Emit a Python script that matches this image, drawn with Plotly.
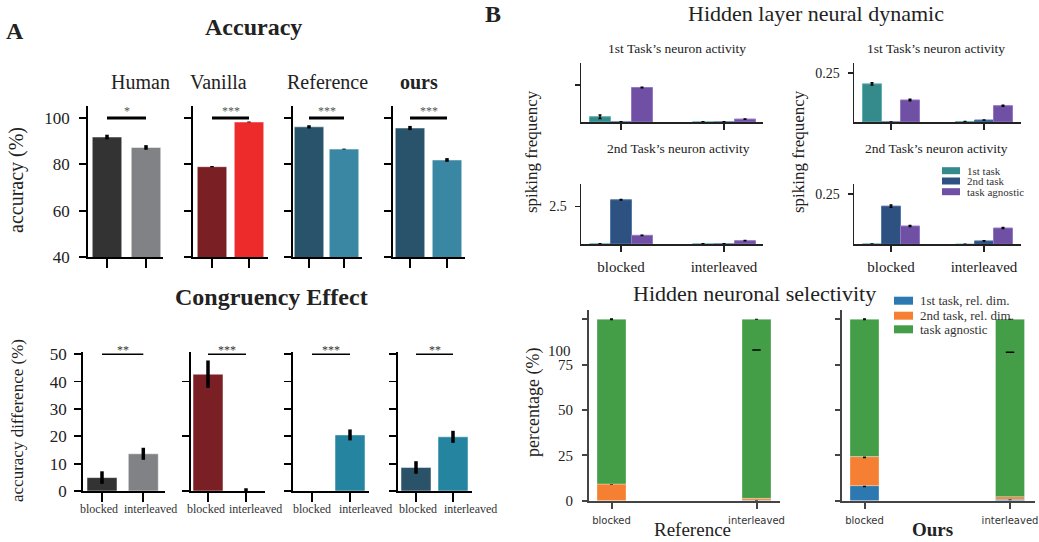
import plotly.graph_objects as go

W, H = 1039, 542
SERIF = "Liberation Serif, Times New Roman, serif"
SANS = "DejaVu Sans, sans-serif"

# ---------------- DATA ----------------
conditions = ["blocked", "interleaved"]
models = ["Human", "Vanilla", "Reference", "ours"]

acc_human = [91.8, 87.3]
acc_human_err = [1.0, 1.0]
acc_vanilla = [79.0, 98.3]
acc_vanilla_err = [0.3, 0.2]
acc_reference = [96.2, 86.6]
acc_reference_err = [0.7, 0.2]
acc_ours = [95.7, 81.9]
acc_ours_err = [0.9, 0.8]
acc_sig = ["*", "***", "***", "***"]
acc_sig_level = [100, 100, 100, 100]

cong_human = [4.9, 13.6]
cong_human_err = [2.3, 2.2]
cong_vanilla = [42.7, 0.0]
cong_vanilla_err = [5.0, 1.0]
cong_reference = [0.0, 20.5]
cong_reference_err = [0.0, 2.0]
cong_ours = [8.6, 19.8]
cong_ours_err = [2.3, 2.2]
cong_sig = ["**", "***", "***", "**"]
cong_sig_level = [50, 50, 50, 50]

neuron_groups = ["1st task", "2nd task", "task agnostic"]
# Reference network (left column)
ref_t1_first = [0.36, 0.0]
ref_t1_second = [0.0, 0.0]
ref_t1_agnostic = [2.34, 0.20]
ref_t2_first = [0.0, 0.0]
ref_t2_second = [2.95, 0.0]
ref_t2_agnostic = [0.58, 0.22]
# Ours (right column)
ours_t1_first = [0.194, 0.002]
ours_t1_second = [0.0, 0.010]
ours_t1_agnostic = [0.112, 0.083]
ours_t2_first = [0.002, 0.0]
ours_t2_second = [0.190, 0.017]
ours_t2_agnostic = [0.091, 0.081]

sel_groups = ["1st task, rel. dim.", "2nd task, rel. dim.", "task agnostic"]
sel_ref_first = [0.0, 0.3]
sel_ref_second = [9.2, 1.0]
sel_ref_agnostic = [90.8, 98.7]
sel_ref_err = [0.4, 0.8]
sel_ours_first = [8.3, 0.8]
sel_ours_second = [16.0, 1.4]
sel_ours_agnostic = [75.7, 97.8]
sel_ours_err = [0.9, 0.6]
sel_ref_mark = [None, 83.1]
sel_ours_mark = [None, 81.8]

# ---------------- STYLE ----------------
C_TEAL, C_NAVY, C_PURPLE = "#358a8c", "#2d5282", "#7050a4"
C_BLUE, C_ORANGE, C_GREEN = "#2e78b2", "#f58033", "#449e48"

layout = dict(width=W, height=H, margin=dict(l=0, r=0, t=0, b=0, autoexpand=False),
              paper_bgcolor="white", plot_bgcolor="rgba(0,0,0,0)",
              showlegend=False, barmode="overlay",
              font=dict(family=SERIF, color="#222"))
anns, shapes, traces = [], [], []
counter = [0]


def add_axes(xdom, centers, ydom, yrange, xstyle, ystyle):
    counter[0] += 1
    n = counter[0]
    sfx = "" if n == 1 else str(n)
    s = centers[1] - centers[0]
    xr = [(xdom[0] - centers[0]) / s, (xdom[1] - centers[0]) / s]
    layout["xaxis" + sfx] = dict(domain=[xdom[0] / W, xdom[1] / W], range=xr,
                                 anchor="y" + sfx, showgrid=False, zeroline=False,
                                 fixedrange=True, automargin=False, **xstyle)
    layout["yaxis" + sfx] = dict(domain=[1 - ydom[1] / H, 1 - ydom[0] / H], range=yrange,
                                 anchor="x" + sfx, showgrid=False, zeroline=False,
                                 fixedrange=True, automargin=False, **ystyle)
    return "x" + sfx, "y" + sfx, s


def text(t, x, y, size, bold=False, angle=0, xanchor="center", yanchor="middle",
         color="#222", family=SERIF):
    if bold:
        t = "<b>" + t + "</b>"
    anns.append(dict(text=t, x=x / W, y=1 - y / H,
                     xref="paper", yref="paper", showarrow=False,
                     font=dict(size=size, family=family, color=color),
                     textangle=angle, xanchor=xanchor, yanchor=yanchor))


def axis_style(line="black", lw=1.8, ticklen=7, fs=17, labels=True, tickvals=None,
               ticktext=None, standoff=None, family=SERIF, fcolor="#222"):
    d = dict(showline=True, linecolor=line, linewidth=lw, ticks="outside",
             ticklen=ticklen, tickwidth=lw, tickcolor=line, tickangle=0,
             tickfont=dict(family=family, size=fs, color=fcolor),
             showticklabels=labels)
    if tickvals is not None:
        d["tickvals"] = tickvals
    if ticktext is not None:
        d["ticktext"] = ticktext
    if standoff is not None:
        d["ticklabelstandoff"] = standoff
    return d


# ---------------- PANEL A: ACCURACY ----------------
acc_vals = [acc_human, acc_vanilla, acc_reference, acc_ours]
acc_errs = [acc_human_err, acc_vanilla_err, acc_reference_err, acc_ours_err]
acc_colors = [["#333333", "#808285"], ["#7a2024", "#ee2b2b"],
              ["#28536b", "#3a87a3"], ["#28536b", "#3a87a3"]]
acc_xdom = [(88, 163), (193, 268), (293, 362), (393, 465)]
acc_centers = [(107, 146), (212, 249), (309, 344), (410, 447)]
acc_ydom = (106, 257)
title_x = [140, 218, 327, 419]

for i in range(4):
    xs = axis_style(labels=False, tickvals=[0, 1], ticklen=9)
    ys = axis_style(labels=(i == 0), tickvals=[40, 60, 80, 100], standoff=6)
    xa, ya, s = add_axes(acc_xdom[i], acc_centers[i], acc_ydom, [40, 105.2], xs, ys)
    w = 29.5 / s
    traces.append(go.Bar(x=[0, 1], y=acc_vals[i], width=w, offset=-w / 2,
                         marker=dict(color=acc_colors[i], line=dict(color="rgba(255,255,255,0.5)", width=1)),
                         error_y=dict(type="data", array=acc_errs[i], thickness=3.5, width=0, color="black"),
                         xaxis=xa, yaxis=ya))
    shapes.append(dict(type="line", xref=xa, yref=ya, x0=0, x1=1,
                       y0=acc_sig_level[i], y1=acc_sig_level[i], line=dict(color="black", width=3)))
    anns.append(dict(text=acc_sig[i], x=0.5, y=1 - 111 / H, xref=xa, yref="paper",
                     showarrow=False, font=dict(size=12, family=SERIF, color="#555"),
                     xanchor="center", yanchor="middle"))
    text(models[i], title_x[i], 82, 20, bold=(i == 3))

# ---------------- PANEL A: CONGRUENCY ----------------
cong_vals = [cong_human, cong_vanilla, cong_reference, cong_ours]
cong_errs = [cong_human_err, cong_vanilla_err, cong_reference_err, cong_ours_err]
cong_colors = [["#333333", "#808285"], ["#7a2024", "#ee2b2b"],
               ["#2a5268", "#2585a0"], ["#2a5268", "#2585a0"]]
cong_xdom = [(83, 165), (191, 265), (293, 369), (398, 472)]
cong_centers = [(102, 143.3), (208, 246), (312, 350), (416, 453)]
cong_ydom = (352, 491)
cong_ticks = [[0, 10, 20, 30, 40, 50], [0, 20, 40], [0, 10, 20, 30, 40, 50], [0, 10, 20, 30, 40, 50]]
cong_label_x = [(98.5, 150.5), (205.5, 255.5), (312, 365), (418, 470)]

for i in range(4):
    xs = axis_style(labels=False, tickvals=[0, 1], ticklen=9)
    ys = axis_style(labels=(i == 0), tickvals=cong_ticks[i], standoff=4)
    xa, ya, s = add_axes(cong_xdom[i], cong_centers[i], cong_ydom, [0, 50.8], xs, ys)
    w = 30 / s
    traces.append(go.Bar(x=[0, 1], y=cong_vals[i], width=w, offset=-w / 2,
                         marker=dict(color=cong_colors[i], line=dict(color="rgba(255,255,255,0.5)", width=1)),
                         error_y=dict(type="data", array=cong_errs[i], thickness=3.5, width=0, color="black"),
                         xaxis=xa, yaxis=ya))
    shapes.append(dict(type="line", xref=xa, yref=ya, x0=0, x1=1,
                       y0=cong_sig_level[i], y1=cong_sig_level[i], line=dict(color="black", width=1.5)))
    anns.append(dict(text=cong_sig[i], x=0.5, y=1 - 350 / H, xref=xa, yref="paper",
                     showarrow=False, font=dict(size=12, family=SERIF, color="#333"),
                     xanchor="center", yanchor="middle"))
    for j in range(2):
        text(conditions[j], cong_label_x[i][j], 509, 12, color="#333")

# ---------------- PANEL B: NEURAL DYNAMIC ----------------
dyn_sets = [
    (ref_t1_first, ref_t1_second, ref_t1_agnostic),
    (ref_t2_first, ref_t2_second, ref_t2_agnostic),
    (ours_t1_first, ours_t1_second, ours_t1_agnostic),
    (ours_t2_first, ours_t2_second, ours_t2_agnostic),
]
dyn_xdom = [(581, 763), (581, 763), (854, 1021), (854, 1021)]
dyn_centers = [(621, 724), (621, 724), (891, 984), (891, 984)]
dyn_ydom = [(63, 122), (184, 244), (63, 122), (184, 244.3)]
dyn_range = [[0, 4.0], [0, 4.0], [0, 0.30], [0, 0.30]]
dyn_tick = [[2.5], [2.5], [0.25], [0.25]]
dyn_ticklab = [False, True, True, True]
dyn_bottom = [False, True, False, True]
dyn_barpx = [21, 21, 19, 19]
group_colors = [C_TEAL, C_NAVY, C_PURPLE]
group_lines = ["#5fb0b0", "#5478a8", "#9478c4"]

for k in range(4):
    xs = axis_style(line="#222", lw=1.5, ticklen=6, labels=dyn_bottom[k], tickvals=[0, 1],
                    ticktext=conditions, fs=15, standoff=2)
    ys = axis_style(line="#222", lw=1.5, ticklen=5, labels=dyn_ticklab[k], tickvals=dyn_tick[k],
                    fs=14, standoff=5)
    xa, ya, s = add_axes(dyn_xdom[k], dyn_centers[k], dyn_ydom[k], dyn_range[k], xs, ys)
    w = dyn_barpx[k] / s
    for g in range(3):
        vals = dyn_sets[k][g]
        err = [v * 0.03 for v in vals] if k >= 2 else [0.12 if (g == 0 and v > 0) else 0.01 for v in vals]
        traces.append(go.Bar(x=[0, 1], y=vals, width=w, offset=(g - 1) * w - w / 2,
                             marker=dict(color=group_colors[g], line=dict(color=group_lines[g], width=1)),
                             error_y=dict(type="data", array=err, thickness=1.5, width=1.5, color="black"),
                             xaxis=xa, yaxis=ya))

text("1st Task\u2019s neuron activity", 677, 48, 13.5)
text("2nd Task\u2019s neuron activity", 678, 149, 13.5)
text("1st Task\u2019s neuron activity", 936, 48, 13.5)
text("2nd Task\u2019s neuron activity", 936, 149, 13.5)
text("spiking frequency", 531, 152, 17, angle=-90)
text("spiking frequency", 798, 152, 17, angle=-90)

# legend for neural dynamic
leg_y = [170.7, 181, 191.7]
for g in range(3):
    shapes.append(dict(type="rect", xref="paper", yref="paper", x0=942 / W, x1=960 / W,
                       y0=1 - (leg_y[g] + 3.5) / H, y1=1 - (leg_y[g] - 3.5) / H,
                       fillcolor=group_colors[g], line=dict(width=0)))
    text(neuron_groups[g], 965, leg_y[g], 11, xanchor="left", color="#333")

# ---------------- PANEL B: SELECTIVITY ----------------
sel_sets = [(sel_ref_first, sel_ref_second, sel_ref_agnostic),
            (sel_ours_first, sel_ours_second, sel_ours_agnostic)]
sel_errs = [sel_ref_err, sel_ours_err]
sel_marks = [sel_ref_mark, sel_ours_mark]
sel_xdom = [(589, 780), (842, 1035)]
sel_centers = [(611.5, 756.5), (864.5, 1010)]
sel_ydom = (310, 500.7)
sel_colors = [C_BLUE, C_ORANGE, C_GREEN]

for k in range(2):
    xs = axis_style(line="#444", lw=2, ticklen=6, labels=True, tickvals=[0, 1],
                    ticktext=conditions, fs=10, family=SANS, fcolor="#333", standoff=3)
    ys = axis_style(line="#444", lw=2, ticklen=5, labels=(k == 0), tickvals=[0, 25, 50, 75, 100],
                    ticktext=["0", "25", "50", "75", ""], fs=15, standoff=6)
    xa, ya, s = add_axes(sel_xdom[k], sel_centers[k], sel_ydom, [0, 105.1], xs, ys)
    w = 29 / s
    base = [0.0, 0.0]
    for g in range(3):
        vals = sel_sets[k][g]
        if g == 2:
            err = [0.5, 0.3]
        else:
            err = [sel_errs[k][0] if vals[0] > 0.5 else 0, sel_errs[k][1] if g == 0 else 0]
        traces.append(go.Bar(x=[0, 1], y=vals, base=list(base), width=w, offset=-w / 2,
                             marker=dict(color=sel_colors[g], line=dict(color="rgba(255,255,255,0.3)", width=1)),
                             error_y=dict(type="data", array=err, thickness=3, width=0, color="black"),
                             xaxis=xa, yaxis=ya))
        base = [base[j] + vals[j] for j in range(2)]
    traces.append(go.Scatter(x=[0, 1], y=sel_marks[k], mode="markers",
                             marker=dict(symbol="line-ew", size=6, color="black",
                                         line=dict(width=1.5, color="black")),
                             xaxis=xa, yaxis=ya))
    if k == 0:
        anns.append(dict(text="100", x=573 / W, y=82.6, xref="paper", yref=ya,
                         showarrow=False, font=dict(size=15, family=SERIF, color="#222"),
                         xanchor="right", yanchor="middle"))

text("percentage (%)", 533, 403, 18, angle=-90)
text("Reference", 692, 529, 19)
text("Ours", 932, 529, 19, bold=True)

leg2_y = [300.7, 315.7, 329.3]
for g in range(3):
    shapes.append(dict(type="rect", xref="paper", yref="paper", x0=894 / W, x1=913 / W,
                       y0=1 - (leg2_y[g] + 4) / H, y1=1 - (leg2_y[g] - 4) / H,
                       fillcolor=sel_colors[g], line=dict(width=0)))
    text(sel_groups[g], 918, leg2_y[g], 13, xanchor="left", color="#333")

# ---------------- TITLES ----------------
text("A", 15, 31, 24, bold=True)
text("B", 493, 14, 24, bold=True)
text("Accuracy", 253, 27, 24, bold=True)
text("Congruency Effect", 271, 297, 24, bold=True)
text("accuracy (%)", 17, 180, 20, angle=-90)
text("accuracy difference (%)", 17, 421, 17, angle=-90)
text("Hidden layer neural dynamic", 816, 14, 22)
text("Hidden neuronal selectivity", 754, 293, 22)

layout["annotations"] = anns
layout["shapes"] = shapes
fig = go.Figure(data=traces, layout=layout)
fig.write_html("out.html", config={"displayModeBar": False, "staticPlot": True},
               post_script="document.body.style.margin='0px';document.body.style.overflow='hidden';")
